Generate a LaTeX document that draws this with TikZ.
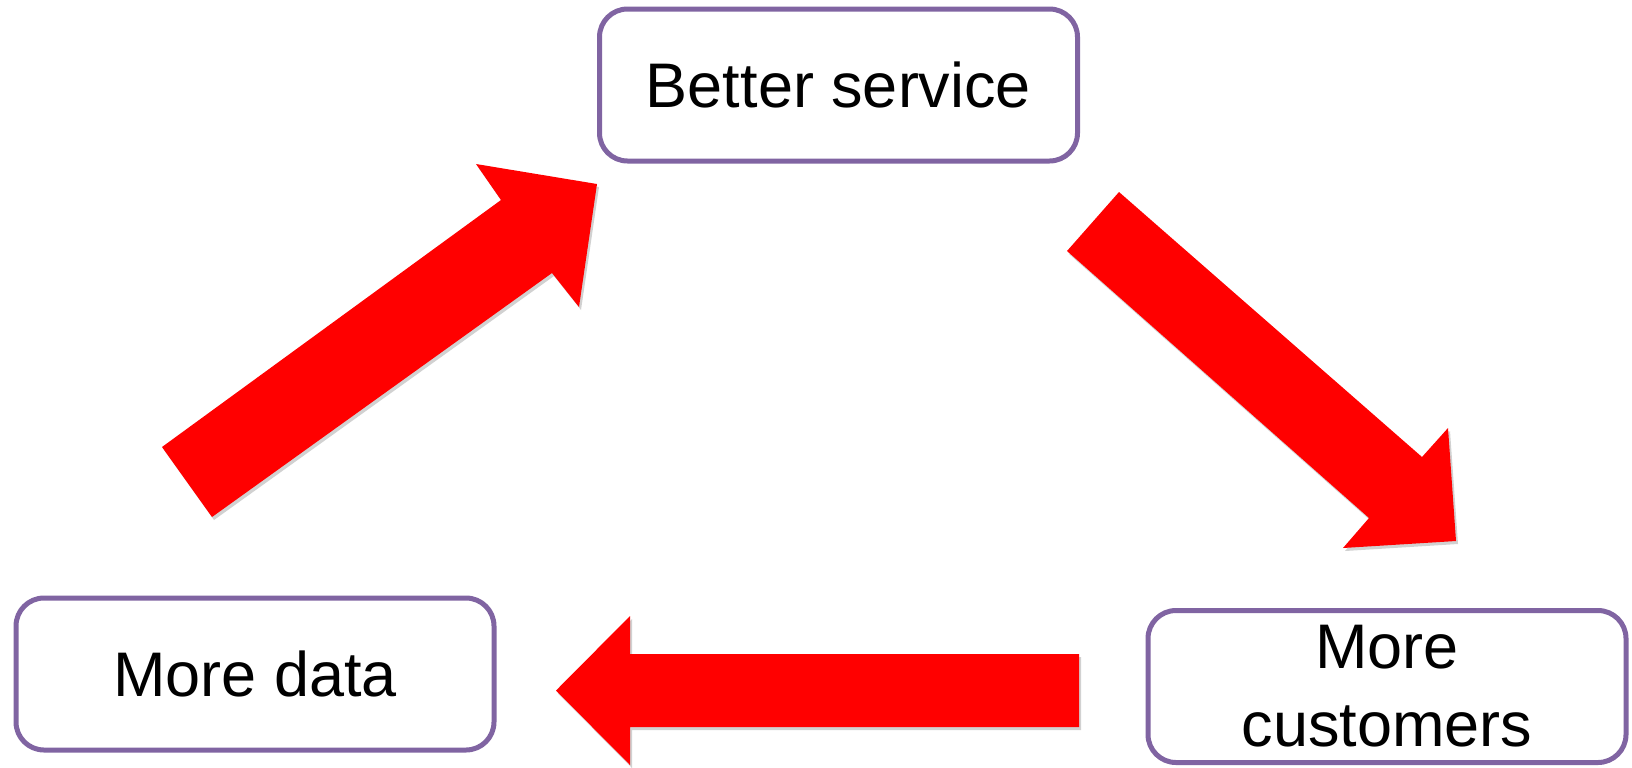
\documentclass[tikz,border=0pt]{standalone}
\usepackage{fontspec}
\setmainfont{Liberation Sans}
\definecolor{boxline}{RGB}{128,100,162}
\definecolor{arrowred}{RGB}{255,0,0}
\begin{document}
\begin{tikzpicture}[x=0.5pt,y=-0.5pt,
  stage/.style={draw=boxline, line width=2.5pt, rounded corners=14pt,
    fill=white, align=center, inner sep=0pt,
    minimum width=239pt, minimum height=76pt,
    font=\fontsize{31.5}{39}\selectfont},
  blockarrow/.style={fill=arrowred},
  arrowshadow/.style={fill=black, fill opacity=0.18}]
  \useasboundingbox (0,0) rectangle (1632,767);

  % the three stages of the loop
  \node[stage] (service)   at (838.5,85)  {Better service};
  \node[stage] (data)      at (255,674)   {More data};
  \node[stage] (customers) at (1387,686.5) {More\\customers};

  % block arrows, each with a faint shadow beneath
  \foreach \dx/\dy/\sty in {2/3/arrowshadow, 0/0/blockarrow}{
    \begin{scope}[shift={(\dx,\dy)}]
      % more data -> better service
      \fill[\sty] (162,447) -- (212,517) -- (552,273) -- (579,307)
        -- (597,184) -- (476,164) -- (501,200) -- cycle;
      % better service -> more customers
      \fill[\sty] (1119,192) -- (1067,251) -- (1369,518) -- (1343,548)
        -- (1456,541) -- (1448,428) -- (1422,457) -- cycle;
      % more customers -> more data
      \fill[\sty] (1079,654) -- (1079,727) -- (630,727) -- (630,765)
        -- (556,690.5) -- (630,616) -- (630,654) -- cycle;
    \end{scope}
  }
\end{tikzpicture}
\end{document}
